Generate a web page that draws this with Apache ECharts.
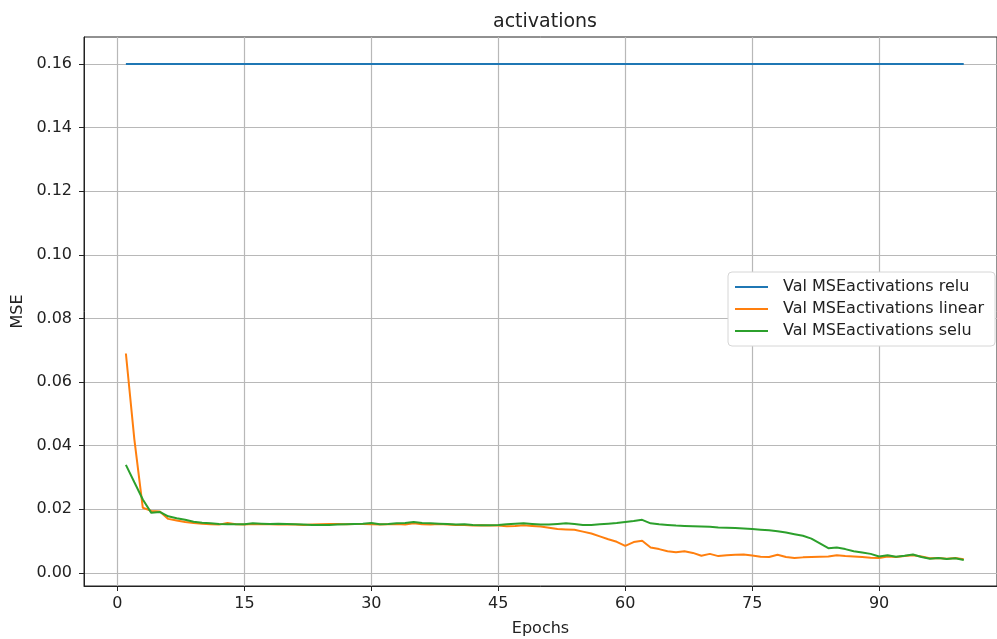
<!DOCTYPE html>
<html>
<head>
<meta charset="utf-8">
<script src="https://cdn.jsdelivr.net/npm/echarts@6/dist/echarts.min.js"></script>
<style>
  html, body { margin: 0; padding: 0; background: #fff; }
  #chart { width: 997px; height: 639px; }
</style>
</head>
<body>
<div id="chart"></div>
<script>
// epochs 1..100
var epochs = [];
for (var i = 1; i <= 100; i++) epochs.push(i);

var xTicks = [0, 15, 30, 45, 60, 75, 90];
var yTicks = [0, 0.02, 0.04, 0.06, 0.08, 0.10, 0.12, 0.14, 0.16];

var reluVals = [
  0.16, 0.16, 0.16, 0.16, 0.16, 0.16, 0.16, 0.16, 0.16, 0.16,
  0.16, 0.16, 0.16, 0.16, 0.16, 0.16, 0.16, 0.16, 0.16, 0.16,
  0.16, 0.16, 0.16, 0.16, 0.16, 0.16, 0.16, 0.16, 0.16, 0.16,
  0.16, 0.16, 0.16, 0.16, 0.16, 0.16, 0.16, 0.16, 0.16, 0.16,
  0.16, 0.16, 0.16, 0.16, 0.16, 0.16, 0.16, 0.16, 0.16, 0.16,
  0.16, 0.16, 0.16, 0.16, 0.16, 0.16, 0.16, 0.16, 0.16, 0.16,
  0.16, 0.16, 0.16, 0.16, 0.16, 0.16, 0.16, 0.16, 0.16, 0.16,
  0.16, 0.16, 0.16, 0.16, 0.16, 0.16, 0.16, 0.16, 0.16, 0.16,
  0.16, 0.16, 0.16, 0.16, 0.16, 0.16, 0.16, 0.16, 0.16, 0.16,
  0.16, 0.16, 0.16, 0.16, 0.16, 0.16, 0.16, 0.16, 0.16, 0.16
];

var linearVals = [
  0.0690, 0.0420, 0.0205, 0.0195, 0.0193, 0.0170, 0.0165, 0.0160, 0.0157, 0.0155,
  0.0153, 0.0152, 0.0157, 0.0153, 0.0152, 0.0154, 0.0153, 0.0153, 0.0152, 0.0152,
  0.0152, 0.0151, 0.0152, 0.0153, 0.0154, 0.0154, 0.0153, 0.0154, 0.0154, 0.0153,
  0.0152, 0.0153, 0.0154, 0.0152, 0.0156, 0.0153, 0.0152, 0.0154, 0.0152, 0.0151,
  0.0151, 0.0149, 0.0150, 0.0149, 0.0149, 0.0147, 0.0148, 0.0150, 0.0148, 0.0146,
  0.0142, 0.0138, 0.0137, 0.0136, 0.0130, 0.0124, 0.0115, 0.0106, 0.0098, 0.0085,
  0.0097, 0.0101, 0.0080, 0.0075, 0.0068, 0.0065, 0.0068, 0.0063, 0.0054, 0.0060,
  0.0053, 0.0056, 0.0057, 0.0058, 0.0055, 0.0051, 0.0050, 0.0057, 0.0050, 0.0047,
  0.0049, 0.0050, 0.0051, 0.0052, 0.0056, 0.0053, 0.0052, 0.0050, 0.0048, 0.0047,
  0.0052, 0.0050, 0.0053, 0.0056, 0.0052, 0.0046, 0.0047, 0.0045, 0.0047, 0.0043
];

var seluVals = [
  0.0340, 0.0285, 0.0231, 0.0189, 0.0192, 0.0178, 0.0172, 0.0167, 0.0161, 0.0158,
  0.0156, 0.0154, 0.0153, 0.0153, 0.0153, 0.0156, 0.0155, 0.0154, 0.0155, 0.0154,
  0.0153, 0.0152, 0.0151, 0.0151, 0.0151, 0.0152, 0.0153, 0.0154, 0.0155, 0.0157,
  0.0153, 0.0154, 0.0156, 0.0157, 0.0160, 0.0157, 0.0156, 0.0155, 0.0154, 0.0152,
  0.0153, 0.0151, 0.0150, 0.0150, 0.0151, 0.0153, 0.0155, 0.0156, 0.0154, 0.0152,
  0.0152, 0.0154, 0.0156, 0.0154, 0.0151, 0.0151, 0.0153, 0.0155, 0.0157, 0.0160,
  0.0163, 0.0167, 0.0156, 0.0153, 0.0151, 0.0149, 0.0148, 0.0147, 0.0146, 0.0145,
  0.0143, 0.0142, 0.0141, 0.0140, 0.0138, 0.0136, 0.0134, 0.0131, 0.0127, 0.0122,
  0.0117, 0.0108, 0.0093, 0.0078, 0.0080, 0.0075, 0.0068, 0.0064, 0.0060, 0.0052,
  0.0056, 0.0051, 0.0054, 0.0058, 0.0050, 0.0045, 0.0047, 0.0044, 0.0046, 0.0041
];

function pairs(vals) {
  return vals.map(function (v, i) { return [epochs[i], v]; });
}

var font = 'DejaVu Sans';
var gridLine = { show: true, lineStyle: { color: '#b8b8b8', width: 1.2 } };

var myChart = echarts.init(document.getElementById('chart'));

var option = {
  animation: false,
  backgroundColor: '#fff',
  title: {
    text: 'activations',
    left: 488,
    top: 8,
    textStyle: { fontFamily: font, fontSize: 19, fontWeight: 'normal', color: '#222' }
  },
  legend: {
    orient: 'vertical',
    left: 728,
    top: 272,
    padding: [7, 11, 7, 7],
    itemGap: 6,
    itemWidth: 33,
    itemHeight: 2,
    icon: 'rect',
    backgroundColor: '#fff',
    borderColor: '#d6d6d6',
    borderWidth: 1,
    borderRadius: 4,
    textStyle: { fontFamily: font, fontSize: 16, color: '#222', padding: [0, 0, 0, 10] },
    data: ['Val MSEactivations relu', 'Val MSEactivations linear', 'Val MSEactivations selu']
  },
  grid: {
    left: 84,
    top: 37,
    right: 0,
    bottom: 53,
    outerBoundsMode: 'none',
    show: true,
    borderColor: '#222',
    borderWidth: 1,
    backgroundColor: 'transparent'
  },
  xAxis: {
    type: 'value',
    min: -3.95,
    max: 103.93,
    name: 'Epochs',
    nameLocation: 'middle',
    nameGap: 35,
    nameTextStyle: { fontFamily: font, fontSize: 16, color: '#222' },
    axisLine: { show: true, onZero: false, lineStyle: { color: '#222' } },
    axisTick: { show: true, length: 5, customValues: xTicks, lineStyle: { color: '#222' } },
    axisLabel: { customValues: xTicks, fontFamily: font, fontSize: 16, color: '#222', margin: 10 },
    splitLine: gridLine
  },
  yAxis: {
    type: 'value',
    min: -0.0041,
    max: 0.1685,
    name: 'MSE',
    nameLocation: 'middle',
    nameGap: 55,
    nameTextStyle: { fontFamily: font, fontSize: 16, color: '#222' },
    axisLine: { show: true, onZero: false, lineStyle: { color: '#222' } },
    axisTick: { show: true, length: 5, customValues: yTicks, lineStyle: { color: '#222' } },
    axisLabel: {
      customValues: yTicks,
      fontFamily: font, fontSize: 16, color: '#222', margin: 12,
      formatter: function (v) { return v.toFixed(2); }
    },
    splitLine: gridLine
  },
  series: [
    {
      name: 'Val MSEactivations relu',
      type: 'line',
      data: pairs(reluVals),
      showSymbol: false,
      lineStyle: { color: '#1f77b4', width: 2 },
      itemStyle: { color: '#1f77b4' }
    },
    {
      name: 'Val MSEactivations linear',
      type: 'line',
      data: pairs(linearVals),
      showSymbol: false,
      lineStyle: { color: '#ff7f0e', width: 2 },
      itemStyle: { color: '#ff7f0e' }
    },
    {
      name: 'Val MSEactivations selu',
      type: 'line',
      data: pairs(seluVals),
      showSymbol: false,
      lineStyle: { color: '#2ca02c', width: 2 },
      itemStyle: { color: '#2ca02c' }
    }
  ]
};

myChart.setOption(option);
window.onresize = myChart.resize;
</script>
</body>
</html>
